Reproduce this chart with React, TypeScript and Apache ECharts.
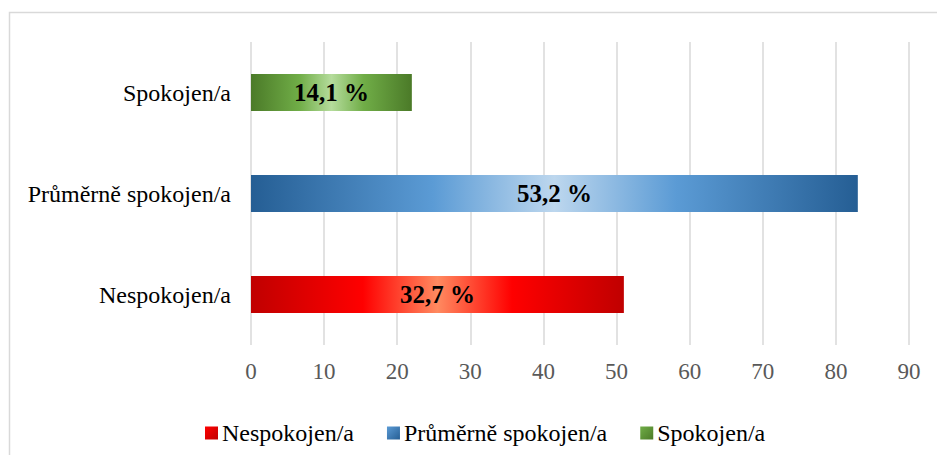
import React, { useEffect, useRef } from "react";
import * as echarts from "echarts";

const categories = ["Nespokojen/a", "Průměrně spokojen/a", "Spokojen/a"];
const seriesNames = ["Nespokojen/a", "Průměrně spokojen/a", "Spokojen/a"];
const values = [51, 83, 22];
const percentLabels = ["32,7 %", "53,2 %", "14,1 %"];
const xTicks = { min: 0, max: 90, interval: 10 };

const palettes = [
  ["#c00000", "#ff0000", "#ff8a60"],
  ["#255e94", "#5b9bd5", "#bdd7ee"],
  ["#4b7a28", "#70ad47", "#b5dc9c"],
];

function grad(p: string[]) {
  return new echarts.graphic.LinearGradient(1, 0, 0, 0, [
    { offset: 0, color: p[0] },
    { offset: 0.3, color: p[1] },
    { offset: 0.5, color: p[2] },
    { offset: 0.7, color: p[1] },
    { offset: 1, color: p[0] },
  ]);
}

function iconGrad(p: string[]) {
  return new echarts.graphic.LinearGradient(0, 0, 1, 1, [
    { offset: 0, color: p[1] },
    { offset: 1, color: p[0] },
  ]);
}

export default function App() {
  const ref = useRef<HTMLDivElement>(null);
  useEffect(() => {
    if (!ref.current) return;
    const chart = echarts.init(ref.current, undefined, { renderer: "svg" });
    const font = "'Liberation Serif', 'Times New Roman', serif";
    const series = seriesNames.map((name, i) => ({
      name,
      type: "bar",
      stack: "all",
      barWidth: 37,
      data: categories.map((_, j) => (j === i ? values[i] : "-")),
      itemStyle: { color: grad(palettes[i]) },
      label: {
        show: true,
        position: "inside",
        formatter: () => percentLabels[i],
        fontFamily: font,
        fontWeight: "bold",
        fontSize: 25,
        color: "#000",
      },
    }));
    chart.setOption({
      animation: false,
      backgroundColor: "#fff",
      textStyle: { fontFamily: font },
      graphic: [
        {
          type: "rect",
          shape: { x: 9.5, y: 12.5, width: 1000, height: 1000 },
          style: { fill: "none", stroke: "#d9d9d9", lineWidth: 1.5 },
          silent: true,
        },
      ],
      grid: { left: 251, right: 28, top: 42, height: 303 },
      xAxis: {
        type: "value",
        min: xTicks.min,
        max: xTicks.max,
        interval: xTicks.interval,
        axisLine: { show: false },
        axisTick: { show: false },
        splitLine: { show: true, lineStyle: { color: "#d9d9d9", width: 1.5 } },
        axisLabel: { color: "#595959", fontSize: 23, fontFamily: font, margin: 15 },
      },
      yAxis: {
        type: "category",
        data: categories,
        axisLine: { show: false },
        axisTick: { show: false },
        axisLabel: { color: "#000", fontSize: 24, fontFamily: font, margin: 20 },
      },
      legend: {
        data: seriesNames.map((name, i) => ({
          name,
          itemStyle: { color: iconGrad(palettes[i]) },
        })),
        left: 200,
        top: 416,
        icon: "rect",
        itemWidth: 13,
        itemHeight: 13,
        itemGap: 33,
        textStyle: { color: "#000", fontSize: 24, fontFamily: font, padding: [0, 0, 0, -1] },
      },
      series,
    });
    return () => chart.dispose();
  }, []);
  return (
    <div
      ref={ref}
      style={{ position: "absolute", left: 0, top: 0, width: 937, height: 455 }}
    />
  );
}
